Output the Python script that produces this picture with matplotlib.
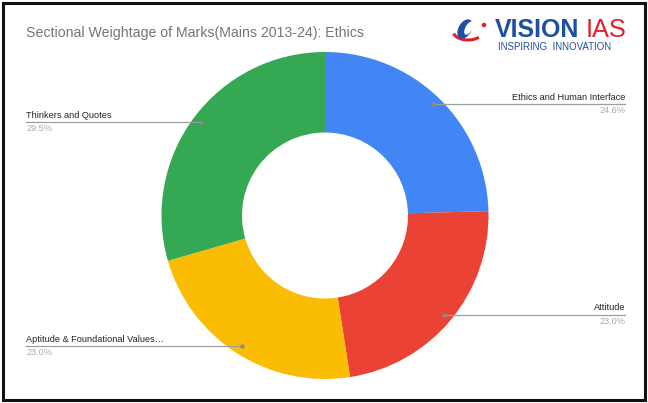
import matplotlib
matplotlib.use("Agg")
import matplotlib.pyplot as plt
import numpy as np
from matplotlib.patches import Rectangle, Ellipse, Circle, Arc

categories = ["Ethics and Human Interface", "Attitude", "Aptitude & Foundational Values\u2026", "Thinkers and Quotes"]
values = [24.6, 23.0, 23.0, 29.5]
pct_labels = ["24.6%", "23.0%", "23.0%", "29.5%"]
colors = ["#4285F4", "#EA4335", "#FBBC04", "#34A853"]
title = "Sectional Weightage of Marks(Mains 2013-24): Ethics"

W, H = 648, 403
fig = plt.figure(figsize=(W / 100, H / 100), dpi=100)
ax = fig.add_axes([0, 0, 1, 1])

def Y(py):
    return H - py

cx, cy, R, r_in = 325, 215.5, 163.5, 83
ax.pie(values, colors=colors, startangle=90, counterclock=False,
       center=(cx, Y(cy)), radius=R,
       wedgeprops=dict(width=R - r_in, linewidth=0), frame=True)
ax.set_xlim(0, W)
ax.set_ylim(0, H)
ax.set_aspect("equal")
ax.axis("off")

# frame border
ax.add_patch(Rectangle((3, 3), W - 6, H - 6, fill=False, edgecolor="#111111", linewidth=2.2))

# leader lines & labels
total = sum(values)
cum = 0
r_dot = 155
for cat, v, pl in zip(categories, values, pct_labels):
    mid = (cum + v / 2) / total * 360
    cum += v
    ang = np.deg2rad(mid)
    dx, dy = np.sin(ang) * r_dot, np.cos(ang) * r_dot
    px, py = cx + dx, cy - dy
    if dx >= 0:
        x_end = 625
        ha = "right"
    else:
        x_end = 26
        ha = "left"
    ax.plot([px, x_end], [Y(py), Y(py)], color="#9e9e9e", linewidth=0.9)
    ax.plot([px], [Y(py)], "o", color="#8a8a8a", markersize=2.2)
    ax.text(x_end, Y(py - 2.5), cat, ha=ha, va="bottom", fontsize=6.6,
            color="#222222", family="Liberation Sans")
    ax.text(x_end, Y(py + 2), pl, ha=ha, va="top", fontsize=6.6,
            color="#aaaaaa", family="Liberation Sans")

# title
ax.text(26.5, Y(37.5), title, ha="left", va="baseline", fontsize=10.2,
        color="#757575", family="Liberation Sans")

# logo icon
ax.add_patch(Arc((468, Y(31)), 30, 18, angle=0, theta1=190, theta2=330,
                 color="#e0202c", linewidth=2.2))
ax.add_patch(Ellipse((465, Y(29)), 13, 21, angle=-30, facecolor="#1f4fa0", edgecolor="none"))
ax.add_patch(Ellipse((469, Y(28)), 7, 15, angle=-30, facecolor="white", edgecolor="none"))
ax.add_patch(Circle((484, Y(25)), 2.3, facecolor="#e0202c", edgecolor="none"))
# logo text
ax.text(495, Y(37), "VISION", ha="left", va="baseline", fontsize=18.0, fontweight="bold",
        color="#1f4fa0", family="Liberation Sans")
ax.text(586, Y(37), "IAS", ha="left", va="baseline", fontsize=18.3,
        color="#e0202c", family="Liberation Sans")
ax.text(498, Y(42.5), "INSPIRING  INNOVATION", ha="left", va="top", fontsize=7.0,
        color="#1f4fa0", family="Liberation Sans")

fig.savefig("out.png", dpi=100, facecolor="white")
